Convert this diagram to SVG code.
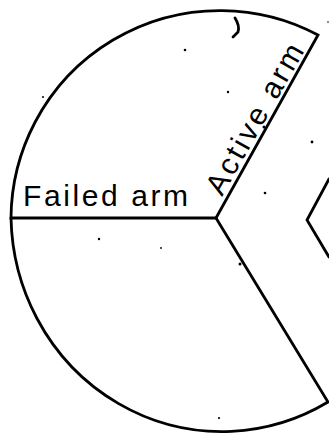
<svg xmlns="http://www.w3.org/2000/svg" width="329" height="443" viewBox="0 0 329 443">
<style>
.ln{fill:none;stroke:#000;stroke-width:2.8;stroke-linejoin:miter;stroke-linecap:round}
.lbl{font-family:"Liberation Sans",Arial,sans-serif;font-size:30px;fill:#000}
.sp{fill:#000}
</style>
<rect width="329" height="443" fill="#fff"/>
<g id="upper-sector">
<path class="ln" d="M216,218 L318,35 A209,209 0 0 0 11,218 Z"/>
</g>
<g id="lower-sector">
<path class="ln" d="M11,218 A211,218 0 0 0 328,402 L216,218"/>
</g>
<g id="right-shape">
<path class="ln" d="M329,179 L307,220 L329,257"/>
</g>
<g id="labels">
<text class="lbl" x="23" y="206" textLength="165" lengthAdjust="spacing">Failed arm</text>
<text class="lbl" transform="translate(222,197) rotate(-60.5)" x="0" y="0" textLength="168" lengthAdjust="spacing">Active arm</text>
</g>
<g id="specks">
<path class="ln" d="M235,18 Q240,26 238,32 L233,37" stroke-width="2"/>
<circle class="sp" cx="185" cy="50" r="1.3"/>
<circle class="sp" cx="228" cy="92" r="1.2"/>
<circle class="sp" cx="312" cy="142" r="1.4"/>
<circle class="sp" cx="265" cy="193" r="1.3"/>
<circle class="sp" cx="43" cy="97" r="1"/>
<circle class="sp" cx="264" cy="127" r="1.5"/>
<circle class="sp" cx="99" cy="239" r="1.2"/>
<circle class="sp" cx="161" cy="248" r="0.9"/>
<circle class="sp" cx="240" cy="264" r="1.5"/>
<circle class="sp" cx="219" cy="418" r="1.1"/>
<circle class="sp" cx="328" cy="22" r="0.8"/>
</g>
</svg>
